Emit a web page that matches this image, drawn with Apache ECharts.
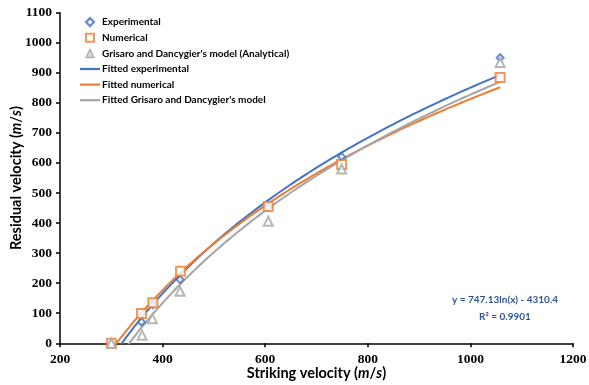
<!DOCTYPE html>
<html>
<head>
<meta charset="utf-8">
<script src="https://cdn.jsdelivr.net/npm/echarts@6/dist/echarts.min.js"></script>
<style>
  html, body { margin: 0; padding: 0; background: #fff; }
  #chart { width: 589px; height: 385px; }
</style>
</head>
<body>
<div id="chart"></div>
<script>
// Striking velocity (m/s) vs residual velocity (m/s)
const expX = [300, 359, 381, 434, 606, 749, 1058];
const expY = [0, 71, 128, 212, 452, 621, 950];
const numX = [300, 359, 381, 435, 606, 749, 1058];
const numY = [0, 99, 135, 240, 455, 595, 884];
const anaX = [300, 360, 380, 434, 606, 749, 1058];
const anaY = [0, 27, 82, 173, 406, 580, 934];

// Logarithmic trend lines y = a*ln(x) + b
const fitExp = [747.13, -4310.4];
const fitNum = [694.0, -3981.2];
const fitAna = [756.5, -4398.4];
const fitRange = [300, 1058];

const xTicks = [200, 400, 600, 800, 1000, 1200];
const yTicks = [0, 100, 200, 300, 400, 500, 600, 700, 800, 900, 1000, 1100];

const BLUE = '#4472C4', ORANGE = '#ED7D31', GRAY = '#A5A5A5';

function pairs(xs, ys) { return xs.map((x, i) => [x, ys[i]]); }
function trend(coef) {
  const pts = [];
  const n = 120;
  for (let i = 0; i <= n; i++) {
    const x = fitRange[0] + (fitRange[1] - fitRange[0]) * i / n;
    pts.push([x, coef[0] * Math.log(x) + coef[1]]);
  }
  return pts;
}

const SERIF = "'Liberation Serif', 'Times New Roman', serif";
const SANS = "Lato, 'Noto Sans', sans-serif";
const labelFont = { fontFamily: SERIF, fontWeight: 'bold', fontSize: 13.5, color: '#000' };
const titleFont = { fontFamily: SANS, fontWeight: 'bold', fontSize: 14.5, color: '#000' };

// legend icons
const ICON_DIAMOND = 'path://M5,0L10,5L5,10L0,5Z';
const ICON_SQUARE = 'path://M0,0H10V10H0Z';
const ICON_TRIANGLE = 'path://M5,0L10,10H0Z';
const ICON_LINE = 'path://M0,0H20V2.2H0Z';

const chart = echarts.init(document.getElementById('chart'), null, { renderer: 'canvas' });
chart.setOption({
  animation: false,
  backgroundColor: '#fff',
  grid: { left: 60, right: 16, top: 12.7, bottom: 41.7, containLabel: false, outerBoundsMode: 'none' },
  legend: {
    orient: 'vertical',
    left: 75,
    top: 12,
    itemWidth: 20,
    itemHeight: 8,
    itemGap: 5.6,
    textStyle: { fontFamily: SANS, fontWeight: 'bold', fontSize: 10, color: '#000', padding: [0, 0, 0, -3] },
    data: [
      { name: 'Experimental', icon: ICON_DIAMOND, itemStyle: { borderWidth: 2.2, color: '#fff', borderColor: BLUE } },
      { name: 'Numerical', icon: ICON_SQUARE, itemStyle: { borderWidth: 2, color: '#fff', borderColor: ORANGE } },
      { name: "Grisaro and Dancygier's model (Analytical)", icon: ICON_TRIANGLE, itemStyle: { borderWidth: 1.5, color: '#d0d0d0', borderColor: GRAY } },
      { name: 'Fitted experimental', icon: ICON_LINE, itemStyle: { color: BLUE, borderWidth: 0 } },
      { name: 'Fitted numerical', icon: ICON_LINE, itemStyle: { color: ORANGE, borderWidth: 0 } },
      { name: "Fitted Grisaro and Dancygier's model", icon: ICON_LINE, itemStyle: { color: GRAY, borderWidth: 0 } }
    ]
  },
  xAxis: {
    type: 'value',
    min: xTicks[0], max: xTicks[xTicks.length - 1], interval: 200,
    name: 'Striking velocity ({i|m}/{i|s})',
    nameLocation: 'middle', nameGap: 23, nameMoveOverlap: false,
    nameTextStyle: Object.assign({}, titleFont, { rich: { i: Object.assign({}, titleFont, { fontStyle: 'italic' }) } }),
    axisLine: { lineStyle: { color: '#000', width: 1.5 } },
    axisTick: { show: true, inside: false, length: 4, lineStyle: { color: '#000', width: 1.5 } },
    axisLabel: Object.assign({ margin: 9, formatter: v => String(v) }, labelFont),
    splitLine: { show: false }
  },
  yAxis: {
    type: 'value',
    min: yTicks[0], max: yTicks[yTicks.length - 1], interval: 100,
    name: 'Residual velocity ({i|m}/{i|s})',
    nameLocation: 'middle', nameGap: 36.5, nameMoveOverlap: false,
    nameTextStyle: Object.assign({}, titleFont, { rich: { i: Object.assign({}, titleFont, { fontStyle: 'italic' }) } }),
    axisLine: { show: true, lineStyle: { color: '#000', width: 1.5 } },
    axisTick: { show: true, inside: false, length: 4, lineStyle: { color: '#000', width: 1.5 } },
    axisLabel: Object.assign({ margin: 8, formatter: v => String(v) }, labelFont),
    splitLine: { show: false }
  },
  series: [
    {
      name: 'Fitted experimental', type: 'line', data: trend(fitExp),
      symbol: 'none', clip: true, z: 2,
      lineStyle: { color: BLUE, width: 2 }, itemStyle: { color: BLUE }
    },
    {
      name: 'Fitted numerical', type: 'line', data: trend(fitNum),
      symbol: 'none', clip: true, z: 2,
      lineStyle: { color: ORANGE, width: 2 }, itemStyle: { color: ORANGE }
    },
    {
      name: "Fitted Grisaro and Dancygier's model", type: 'line', data: trend(fitAna),
      symbol: 'none', clip: true, z: 2,
      lineStyle: { color: GRAY, width: 2 }, itemStyle: { color: GRAY }
    },
    {
      name: 'Experimental', type: 'scatter', data: pairs(expX, expY),
      symbol: 'diamond', symbolSize: 7, z: 3,
      itemStyle: { color: '#fff', borderColor: BLUE, borderWidth: 2 }
    },
    {
      name: 'Numerical', type: 'scatter', data: pairs(numX, numY),
      symbol: 'rect', symbolSize: 9, z: 4,
      itemStyle: { color: '#fff', borderColor: ORANGE, borderWidth: 2 }
    },
    {
      name: "Grisaro and Dancygier's model (Analytical)", type: 'scatter', data: pairs(anaX, anaY),
      symbol: 'triangle', symbolSize: 9, z: 5,
      itemStyle: { color: '#fff', borderColor: GRAY, borderWidth: 2 }
    }
  ],
  graphic: [
    {
      type: 'text', x: 505, y: 292, z: 10,
      style: {
        text: 'y = 747.13ln(x) - 4310.4\nR² = 0.9901',
        fill: '#2F5597', font: "bold 10px Lato", align: 'center', lineHeight: 16.5
      }
    }
  ]
});
</script>
</body>
</html>
